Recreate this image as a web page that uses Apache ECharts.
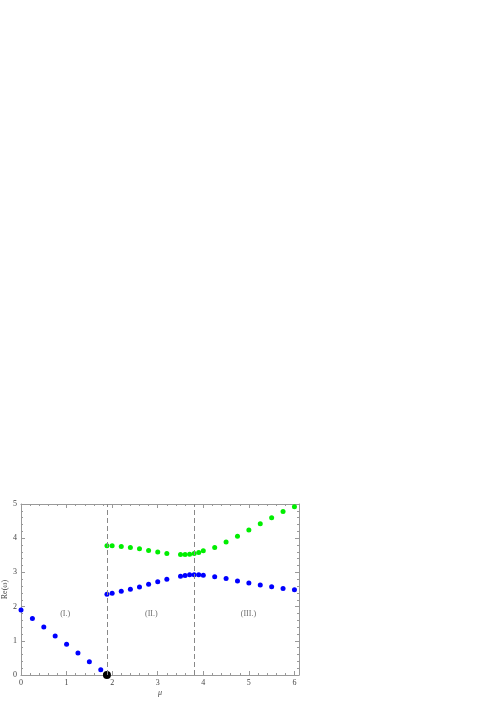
<!DOCTYPE html>
<html>
<head>
<meta charset="utf-8">
<script src="https://cdn.jsdelivr.net/npm/echarts@6/dist/echarts.min.js"></script>
<style>
  html, body { margin: 0; padding: 0; background: #fff; }
  #main { width: 496px; height: 703px; }
</style>
</head>
<body>
<div id="main"></div>
<script>
// region I: one branch going down to zero
var muI = [0, 0.25, 0.5, 0.75, 1.0, 1.25, 1.5, 1.75];
var reI = [1.90, 1.65, 1.40, 1.14, 0.90, 0.64, 0.39, 0.15];
// critical point where the branch hits zero
var muCrit = 1.886;
var reCrit = 0;
// regions II / III: two branches
var muII = [1.886, 2.0, 2.2, 2.4, 2.6, 2.8, 3.0, 3.2, 3.5, 3.6, 3.7, 3.8, 3.9, 4.0, 4.25, 4.5, 4.75, 5.0, 5.25, 5.5, 5.75, 6.0];
var reUpper = [3.78, 3.78, 3.76, 3.73, 3.69, 3.64, 3.60, 3.55, 3.52, 3.52, 3.53, 3.55, 3.58, 3.63, 3.73, 3.89, 4.06, 4.24, 4.42, 4.60, 4.78, 4.92];
var reLower = [2.36, 2.39, 2.45, 2.51, 2.57, 2.65, 2.73, 2.80, 2.89, 2.91, 2.93, 2.93, 2.93, 2.92, 2.87, 2.82, 2.75, 2.69, 2.63, 2.58, 2.53, 2.49];
// region borders (dashed)
var borders = [1.886, 3.80];
// region labels
var regionNames = ['(I.)', '(II.)', '(III.)'];
var regionMu = [0.97, 2.86, 4.99];
var regionRe = 1.80;

var frameColor = '#999';
var textColor = '#444';
var serif = 'Liberation Serif';

function pairs(xs, ys) {
  var out = [];
  for (var i = 0; i < xs.length; i++) out.push([xs[i], ys[i]]);
  return out;
}

function frameAxis(pos, min, max, showLabel, extra) {
  var a = {
    type: 'value',
    position: pos,
    min: min,
    max: max,
    interval: 1,
    splitLine: { show: false },
    axisLine: { show: true, onZero: false, lineStyle: { color: frameColor, width: 1 } },
    axisTick: { show: true, inside: true, length: 4, lineStyle: { color: frameColor } },
    minorTick: { show: true, splitNumber: 5, length: 2, lineStyle: { color: frameColor } },
    axisLabel: {
      show: showLabel,
      fontFamily: serif,
      fontSize: 8,
      color: textColor,
      margin: 4,
      formatter: function (v) { return Number.isInteger(v) ? String(v) : ''; }
    }
  };
  for (var k in extra) a[k] = extra[k];
  return a;
}

var myChart = echarts.init(document.getElementById('main'));
var option = {
  animation: false,
  backgroundColor: '#fff',
  grid: { left: 21, right: 197, top: 504, bottom: 28, containLabel: false, outerBoundsMode: 'none' },
  xAxis: [
    frameAxis('bottom', 0, 6.1, true, {
      name: 'μ', nameLocation: 'middle', nameGap: 14, nameMoveOverlap: false,
      nameTextStyle: { fontFamily: serif, fontSize: 8, color: textColor, fontStyle: 'italic' }
    }),
    frameAxis('top', 0, 6.1, false, {})
  ],
  yAxis: [
    frameAxis('left', 0, 5, true, {
      name: 'Re(ω)', nameLocation: 'middle', nameGap: 12, nameRotate: 90, nameMoveOverlap: false,
      nameTextStyle: { fontFamily: serif, fontSize: 8, color: textColor }
    }),
    frameAxis('right', 0, 5, false, {})
  ],
  series: [
    {
      name: 'borders',
      type: 'scatter',
      data: [],
      markLine: {
        silent: true,
        symbol: ['none', 'none'],
        label: { show: false },
        lineStyle: { color: '#888', type: [5, 3], width: 1 },
        data: borders.map(function (b) { return { xAxis: b }; })
      }
    },
    {
      name: 'branch I',
      type: 'scatter',
      clip: false,
      symbolSize: 5,
      itemStyle: { color: '#0000ff', opacity: 1 },
      data: pairs(muI, reI)
    },
    {
      name: 'lower',
      type: 'scatter',
      clip: false,
      symbolSize: 5,
      itemStyle: { color: '#0000ff', opacity: 1 },
      data: pairs(muII, reLower)
    },
    {
      name: 'upper',
      type: 'scatter',
      clip: false,
      symbolSize: 5,
      itemStyle: { color: '#00ee00', opacity: 1 },
      data: pairs(muII, reUpper)
    },
    {
      name: 'critical',
      type: 'scatter',
      clip: false,
      symbolSize: 8,
      itemStyle: { color: '#000', opacity: 1 },
      data: [[muCrit, reCrit]]
    },
    {
      name: 'regions',
      type: 'scatter',
      symbolSize: 0,
      silent: true,
      label: {
        show: true,
        position: 'inside',
        fontFamily: serif,
        fontSize: 8,
        color: textColor,
        formatter: function (p) { return p.name; }
      },
      data: regionNames.map(function (n, i) {
        return { name: n, value: [regionMu[i], regionRe] };
      })
    }
  ]
};
myChart.setOption(option);
</script>
</body>
</html>
